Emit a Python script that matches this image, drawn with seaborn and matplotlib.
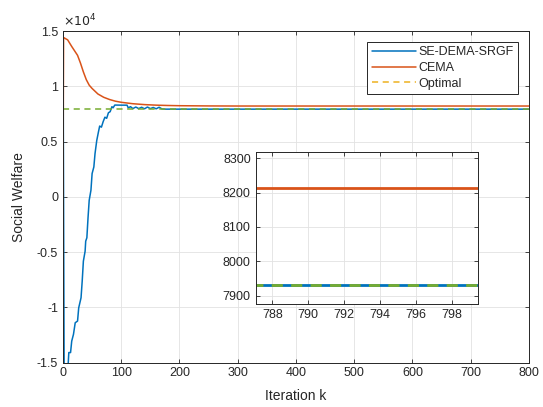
import numpy as np
import pandas as pd
import matplotlib
matplotlib.use("Agg")
import matplotlib.pyplot as plt
import seaborn as sns
from matplotlib.lines import Line2D

# data
blue_k = [0, 2, 8, 10, 13, 15, 18, 21, 25, 27, 31, 33, 35, 38, 39, 41, 43, 45, 48, 50,
          53, 55, 58, 61, 63, 66, 69, 72, 75, 78, 81, 84, 86, 89, 100, 110, 112, 116,
          120, 125, 130, 135, 140, 145, 150, 155, 160, 165, 170, 175, 800]
blue_v = [15500, -16000, -16000, -14100, -14100, -13060, -12450, -11400, -11250, -10050,
          -9140, -7630, -5830, -4920, -4020, -3710, -1900, -320, 590, 2100,
          2700, 3900, 5100, 5900, 6400, 6300, 6800, 7200, 7100, 7600, 7700, 8150, 8050,
          8300, 8290, 8290, 8050, 8150, 7980, 8120, 7980, 8100, 7960, 8120, 7980, 8080,
          7960, 8100, 7950, 7930, 7930]

cema_k = [0, 1, 3, 8, 15, 20, 25, 30, 35, 40, 45, 50, 60, 70, 80, 90, 100, 120, 140,
          160, 180, 200, 250, 300, 800]
cema_v = [0, 14400, 14350, 14200, 13600, 13200, 12800, 12100, 11300, 10600, 10100, 9800,
          9300, 9000, 8800, 8650, 8550, 8420, 8340, 8290, 8260, 8240, 8220, 8212, 8212]

opt_k = [0, 800]
opt_v = [7930, 7930]

labels = ["SE-DEMA-SRGF", "CEMA", "Optimal"]
yticks = [-15000, -10000, -5000, 0, 5000, 10000, 15000]
ytick_labels = ["-1.5", "-1", "-0.5", "0", "0.5", "1", "1.5"]

c_blue, c_orange, c_yellow, c_green = "#0072BD", "#D95319", "#EDB120", "#77AC30"

sns.set_style("ticks")
plt.rcParams["font.family"] = ["Liberation Sans", "DejaVu Sans"]
plt.rcParams["xtick.direction"] = "in"
plt.rcParams["ytick.direction"] = "in"

df_blue = pd.DataFrame({"k": blue_k, "v": blue_v})
df_cema = pd.DataFrame({"k": cema_k, "v": cema_v})
df_opt = pd.DataFrame({"k": opt_k, "v": opt_v})

fig = plt.figure(figsize=(5.43, 4.07), dpi=100)
ax = fig.add_axes([0.116, 0.1093, 0.858, 0.8145])


def style_axes(a, fs):
    for s in a.spines.values():
        s.set_color("#262626")
        s.set_linewidth(0.7)
    a.grid(True, color="#e2e2e2", linewidth=0.6)
    a.tick_params(axis="both", which="both", top=True, right=True, labelsize=fs,
                  colors="#262626", length=3, width=0.6)


def draw(a, lw):
    sns.lineplot(data=df_blue, x="k", y="v", ax=a, color=c_blue, linewidth=lw,
                 estimator=None, sort=False)
    sns.lineplot(data=df_cema, x="k", y="v", ax=a, color=c_orange, linewidth=lw,
                 estimator=None, sort=False)
    sns.lineplot(data=df_opt, x="k", y="v", ax=a, color=c_green, linewidth=lw,
                 estimator=None, linestyle=(0, (4, 3)))


draw(ax, 1.1)
ax.set_xlim(0, 800)
ax.set_ylim(-15000, 15000)
ax.set_xticks(range(0, 801, 100))
ax.set_yticks(yticks)
ax.set_yticklabels(ytick_labels)
style_axes(ax, 9)
ax.set_xlabel("Iteration k", fontsize=10, color="#262626", labelpad=7)
ax.set_ylabel("Social Welfare", fontsize=10, color="#262626", labelpad=8)
ax.text(0.0, 1.005, r"$\times10^4$", transform=ax.transAxes, fontsize=9,
        color="#262626", ha="left", va="bottom")

handles = [Line2D([], [], color=c_blue, lw=1.1),
           Line2D([], [], color=c_orange, lw=1.1),
           Line2D([], [], color=c_yellow, lw=1.1, linestyle=(0, (4, 3)))]
leg = ax.legend(handles, labels, loc="upper right", fontsize=9, frameon=True,
                fancybox=False, edgecolor="#262626", framealpha=1,
                bbox_to_anchor=(0.976, 0.967), borderaxespad=0, handlelength=3.5,
                handletextpad=0.2, borderpad=0.35, labelspacing=0.3)
leg.get_frame().set_linewidth(0.7)

ins = fig.add_axes([0.4709, 0.2531, 0.4094, 0.3742])
draw(ins, 2.0)
ins.set_xlim(787.08, 799.43)
ins.set_ylim(7876, 8319)
ins.set_xticks(range(788, 799, 2))
ins.set_yticks([7900, 8000, 8100, 8200, 8300])
ins.set_xlabel("")
ins.set_ylabel("")
style_axes(ins, 9)

fig.savefig("out.png", dpi=100)
